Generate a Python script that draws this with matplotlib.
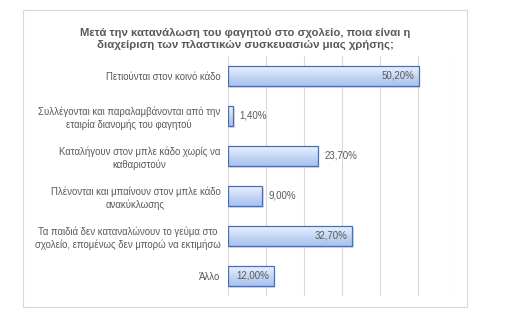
import numpy as np
import matplotlib.pyplot as plt
from matplotlib.colors import LinearSegmentedColormap
from matplotlib.patches import Rectangle

plt.rcParams['font.family'] = ['Liberation Sans', 'DejaVu Sans']

title = ("Μετά την κατανάλωση του φαγητού στο σχολείο, ποια είναι η\n"
         "διαχείριση των πλαστικών συσκευασιών μιας χρήσης;")
categories = [
    "Πετιούνται στον κοινό κάδο",
    "Συλλέγονται και παραλαμβάνονται από την\nεταιρία διανομής του φαγητού",
    "Καταλήγουν στον μπλε κάδο χωρίς να\nκαθαριστούν",
    "Πλένονται και μπαίνουν στον μπλε κάδο\nανακύκλωσης",
    "Τα παιδιά δεν καταναλώνουν το γεύμα στο\nσχολείο, επομένως δεν μπορώ να εκτιμήσω",
    "Άλλο",
]
values = [50.2, 1.4, 23.7, 9.0, 32.7, 12.0]
labels_inside = [True, False, False, False, True, True]

grey = "#595959"
fig = plt.figure(figsize=(5.2, 3.19), dpi=100)
fig.patches.append(Rectangle((23 / 520, 1 - 307 / 319), 444 / 520, 297 / 319,
                             transform=fig.transFigure, fill=False,
                             edgecolor="#d9d9d9", linewidth=0.8))
fig.text(245 / 520, 1 - 39 / 319, title, ha="center", va="center",
         fontsize=8.2, fontweight="bold", color=grey, linespacing=1.2)

ax = fig.add_axes([228 / 520, 1 - 296 / 319, 228 / 520, 240 / 319])
ax.set_xlim(0, 60)
ax.set_ylim(len(values) - 0.5, -0.5)
ax.set_xticks(np.arange(0, 61, 10))
ax.grid(axis="x", color="#d9d9d9", linewidth=0.8)
ax.set_axisbelow(True)
for s in ax.spines.values():
    s.set_visible(False)
ax.tick_params(axis="x", length=0, labelbottom=False)
ax.tick_params(axis="y", length=0, pad=5.5)
ax.set_yticks(range(len(categories)))
ax.set_yticklabels(categories, fontsize=6.9, color=grey, multialignment="center",
                   linespacing=1.35)

cmap = LinearSegmentedColormap.from_list("g", ["#eaf1fd", "#c5d7f7", "#a6c1f0"])
grad = np.linspace(0, 1, 64).reshape(-1, 1)
h = 0.5
for i, v in enumerate(values):
    # shadow
    ax.add_patch(Rectangle((0, i - h / 2 + 0.05), v + 0.35, h, facecolor="#c8c8c8",
                           edgecolor="none", zorder=2, alpha=0.6))
    im = ax.imshow(grad, cmap=cmap, aspect="auto", extent=(0, v, i + h / 2, i - h / 2),
                   zorder=3, interpolation="bilinear")
    r = Rectangle((0, i - h / 2), v, h, facecolor="none", edgecolor="#4f6fa3",
                  linewidth=0.9, zorder=4)
    ax.add_patch(r)
    im.set_clip_path(r)
    txt = f"{v:.2f}%".replace(".", ",")
    if labels_inside[i]:
        ax.text(v - 1.2, i, txt, ha="right", va="center", fontsize=7, color=grey, zorder=5)
    else:
        ax.text(v + 1.6, i, txt, ha="left", va="center", fontsize=7, color=grey, zorder=5)

ax.set_xlim(0, 60)
ax.set_ylim(len(values) - 0.5, -0.5)
fig.savefig("out.png", dpi=100, facecolor="white")
